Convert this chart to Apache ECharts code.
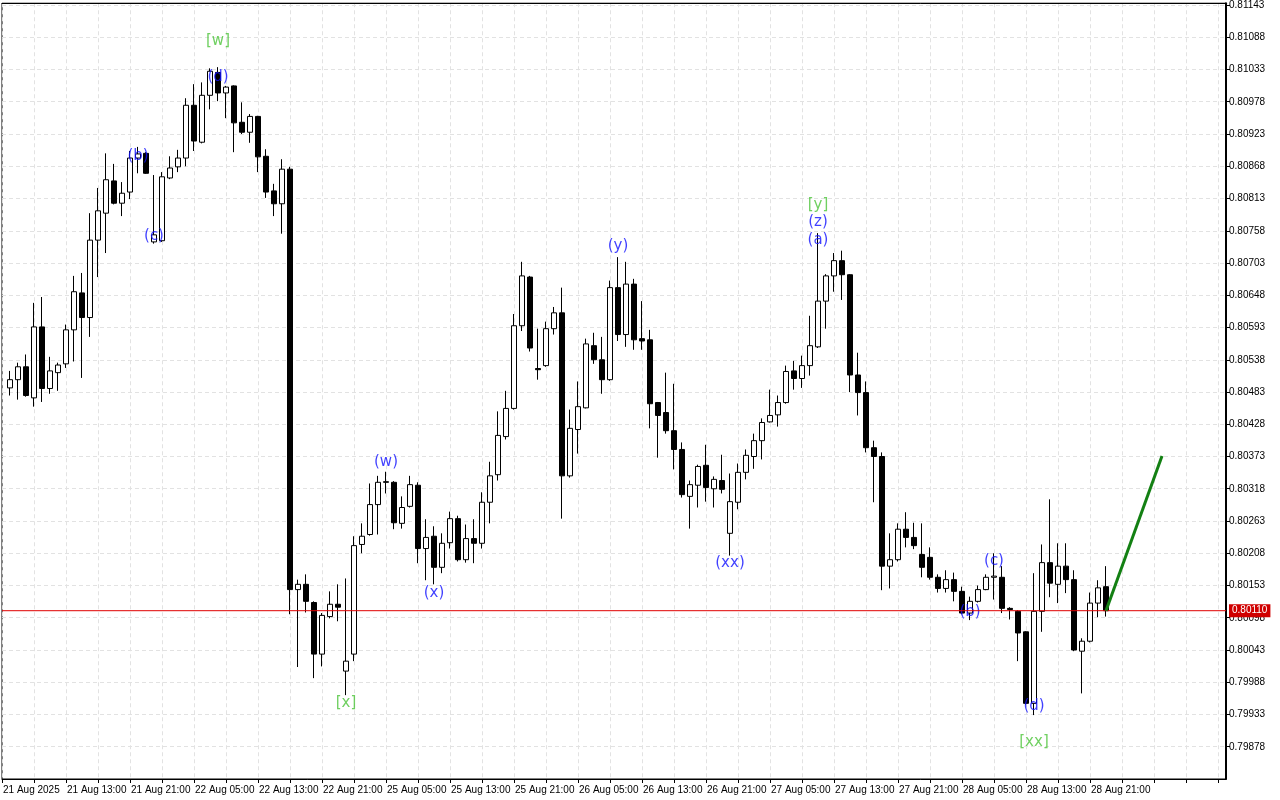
<!DOCTYPE html>
<html>
<head>
<meta charset="utf-8">
<script src="https://cdn.jsdelivr.net/npm/echarts@6/dist/echarts.min.js"></script>
<style>
html, body { margin: 0; padding: 0; background: #fff; }
#chart { width: 1280px; height: 800px; }
</style>
</head>
<body>
<div id="chart"></div>
<script>
// trading days shown, hourly bars; the first day starts at 05:00
const days = ['21 Aug', '22 Aug', '25 Aug', '26 Aug', '27 Aug', '28 Aug'];
const nextDay = '29 Aug';
const firstLabel = '21 Aug 2025';
const futureSlots = 15;

// hourly candles from 21 Aug 06:00 to 28 Aug 23:00
const open = [
  0.80490, 0.80504, 0.80526, 0.80473, 0.80594, 0.80489, 0.80516, 0.80531, 0.80589, 0.80652,
  0.80610, 0.80742, 0.80788, 0.80843, 0.80805, 0.80824, 0.80882, 0.80890, 0.80739, 0.80741,
  0.80848, 0.80867, 0.80882, 0.80972, 0.80909, 0.80989, 0.81028, 0.80993, 0.81005, 0.80943,
  0.80926, 0.80953, 0.80885, 0.80826, 0.80804, 0.80863, 0.80146, 0.80155, 0.80124, 0.80036,
  0.80100, 0.80121, 0.80007, 0.80036, 0.80223, 0.80240, 0.80291, 0.80330, 0.80329, 0.80259,
  0.80288, 0.80324, 0.80216, 0.80237, 0.80184, 0.80226, 0.80267, 0.80197, 0.80233, 0.80225,
  0.80295, 0.80342, 0.80407, 0.80455, 0.80596, 0.80679, 0.80523, 0.80528, 0.80591, 0.80618,
  0.80340, 0.80419, 0.80456, 0.80562, 0.80538, 0.80504, 0.80661, 0.80581, 0.80667, 0.80574,
  0.80572, 0.80465, 0.80448, 0.80417, 0.80385, 0.80305, 0.80324, 0.80358, 0.80318, 0.80332,
  0.80242, 0.80295, 0.80346, 0.80373, 0.80400, 0.80432, 0.80444, 0.80465, 0.80519, 0.80506,
  0.80528, 0.80560, 0.80638, 0.80681, 0.80707, 0.80683, 0.80512, 0.80482, 0.80388, 0.80373,
  0.80186, 0.80197, 0.80249, 0.80235, 0.80206, 0.80201, 0.80167, 0.80148, 0.80163, 0.80143,
  0.80106, 0.80126, 0.80146, 0.80167, 0.80167, 0.80114, 0.80109, 0.80074, 0.79952, 0.80109,
  0.80192, 0.80155, 0.80186, 0.80163, 0.80041, 0.80058, 0.80123, 0.80151
];
const close = [
  0.80504, 0.80526, 0.80477, 0.80594, 0.80489, 0.80519, 0.80529, 0.80589, 0.80654, 0.80610,
  0.80742, 0.80792, 0.80845, 0.80805, 0.80822, 0.80882, 0.80889, 0.80856, 0.80751, 0.80850,
  0.80865, 0.80882, 0.80972, 0.80911, 0.80989, 0.81030, 0.80993, 0.81003, 0.80942, 0.80926,
  0.80953, 0.80884, 0.80824, 0.80804, 0.80863, 0.80146, 0.80155, 0.80126, 0.80036, 0.80102,
  0.80121, 0.80116, 0.80024, 0.80221, 0.80237, 0.80291, 0.80329, 0.80329, 0.80260, 0.80286,
  0.80325, 0.80216, 0.80235, 0.80184, 0.80225, 0.80267, 0.80197, 0.80233, 0.80225, 0.80295,
  0.80340, 0.80409, 0.80455, 0.80596, 0.80681, 0.80558, 0.80521, 0.80591, 0.80618, 0.80340,
  0.80421, 0.80458, 0.80565, 0.80538, 0.80504, 0.80661, 0.80581, 0.80667, 0.80572, 0.80570,
  0.80463, 0.80443, 0.80417, 0.80385, 0.80308, 0.80325, 0.80356, 0.80320, 0.80334, 0.80317,
  0.80296, 0.80346, 0.80375, 0.80400, 0.80431, 0.80443, 0.80465, 0.80518, 0.80506, 0.80528,
  0.80562, 0.80638, 0.80681, 0.80707, 0.80683, 0.80512, 0.80482, 0.80388, 0.80373, 0.80186,
  0.80197, 0.80249, 0.80235, 0.80221, 0.80184, 0.80167, 0.80148, 0.80163, 0.80143, 0.80106,
  0.80126, 0.80146, 0.80167, 0.80169, 0.80114, 0.80112, 0.80072, 0.79952, 0.80109, 0.80192,
  0.80157, 0.80186, 0.80163, 0.80043, 0.80058, 0.80123, 0.80149, 0.80110
];
const low = [
  0.80477, 0.80470, 0.80475, 0.80458, 0.80466, 0.80480, 0.80485, 0.80524, 0.80535, 0.80507,
  0.80577, 0.80679, 0.80720, 0.80803, 0.80783, 0.80812, 0.80856, 0.80855, 0.80736, 0.80739,
  0.80846, 0.80858, 0.80868, 0.80894, 0.80907, 0.80965, 0.80979, 0.80950, 0.80892, 0.80923,
  0.80908, 0.80858, 0.80814, 0.80783, 0.80753, 0.80104, 0.80014, 0.80107, 0.79995, 0.80015,
  0.80097, 0.80092, 0.79966, 0.80024, 0.80208, 0.80238, 0.80240, 0.80310, 0.80249, 0.80250,
  0.80286, 0.80191, 0.80162, 0.80155, 0.80174, 0.80216, 0.80194, 0.80192, 0.80191, 0.80216,
  0.80259, 0.80332, 0.80402, 0.80453, 0.80587, 0.80552, 0.80504, 0.80526, 0.80581, 0.80267,
  0.80337, 0.80378, 0.80455, 0.80531, 0.80480, 0.80502, 0.80570, 0.80560, 0.80555, 0.80555,
  0.80421, 0.80371, 0.80412, 0.80351, 0.80303, 0.80250, 0.80286, 0.80296, 0.80286, 0.80310,
  0.80204, 0.80283, 0.80334, 0.80352, 0.80368, 0.80431, 0.80424, 0.80463, 0.80487, 0.80490,
  0.80511, 0.80558, 0.80591, 0.80654, 0.80640, 0.80483, 0.80443, 0.80380, 0.80295, 0.80145,
  0.80148, 0.80194, 0.80218, 0.80215, 0.80167, 0.80163, 0.80141, 0.80141, 0.80126, 0.80104,
  0.80094, 0.80124, 0.80145, 0.80129, 0.80106, 0.80095, 0.80024, 0.79950, 0.79932, 0.80074,
  0.80133, 0.80123, 0.80140, 0.80041, 0.79969, 0.80056, 0.80099, 0.80100
];
const high = [
  0.80519, 0.80533, 0.80547, 0.80635, 0.80645, 0.80543, 0.80533, 0.80598, 0.80681, 0.80686,
  0.80788, 0.80831, 0.80890, 0.80872, 0.80841, 0.80894, 0.80901, 0.80892, 0.80853, 0.80858,
  0.80885, 0.80896, 0.80984, 0.81008, 0.81011, 0.81035, 0.81037, 0.81005, 0.81006, 0.80977,
  0.80957, 0.80954, 0.80897, 0.80838, 0.80880, 0.80867, 0.80163, 0.80172, 0.80126, 0.80106,
  0.80143, 0.80155, 0.80165, 0.80237, 0.80259, 0.80327, 0.80340, 0.80347, 0.80331, 0.80305,
  0.80340, 0.80329, 0.80266, 0.80254, 0.80242, 0.80279, 0.80272, 0.80257, 0.80266, 0.80312,
  0.80364, 0.80450, 0.80485, 0.80616, 0.80705, 0.80681, 0.80591, 0.80603, 0.80628, 0.80661,
  0.80453, 0.80501, 0.80574, 0.80584, 0.80577, 0.80673, 0.80713, 0.80705, 0.80676, 0.80638,
  0.80589, 0.80466, 0.80516, 0.80497, 0.80397, 0.80332, 0.80359, 0.80393, 0.80339, 0.80376,
  0.80344, 0.80361, 0.80385, 0.80412, 0.80438, 0.80487, 0.80477, 0.80528, 0.80536, 0.80545,
  0.80613, 0.80754, 0.80684, 0.80720, 0.80724, 0.80684, 0.80550, 0.80501, 0.80400, 0.80380,
  0.80242, 0.80259, 0.80278, 0.80260, 0.80259, 0.80218, 0.80172, 0.80179, 0.80175, 0.80151,
  0.80134, 0.80153, 0.80172, 0.80208, 0.80186, 0.80116, 0.80111, 0.80075, 0.80174, 0.80223,
  0.80300, 0.80225, 0.80225, 0.80179, 0.80063, 0.80141, 0.80162, 0.80186
];

const bidPrice = 0.80110;

// projected move after the last bar
const projIdx = [138, 145];
const projPrice = [0.80110, 0.80374];

// wave marks
const blueText = ['(d)', '(b)', '(c)', '(w)', '(x)', '(y)', '(xx)', '(z)', '(a)', '(b)', '(c)', '(d)'];
const blueIdx = [27, 17, 19, 48, 54, 77, 91, 102, 102, 121, 124, 129];
const bluePrice = [0.81020, 0.80885, 0.80749, 0.80363, 0.80140, 0.80732, 0.80191, 0.80773, 0.80742, 0.80107, 0.80194, 0.79947];
const greenText = ['[w]', '[x]', '[y]', '[xx]'];
const greenIdx = [27, 43, 102, 129];
const greenPrice = [0.81081, 0.79952, 0.80802, 0.79886];

// axis
const yMin = 0.79823;
const yMax = 0.81146;
const yStep = 0.00055;

const categories = [];
days.forEach((d, di) => {
  for (let h = di === 0 ? 5 : 0; h < 24; h++) {
    categories.push(d + ' ' + String(h).padStart(2, '0') + ':00');
  }
});
const lastBarIdx = categories.length - 1;
for (let h = 0; h < futureSlots; h++) {
  categories.push(nextDay + ' ' + String(h).padStart(2, '0') + ':00');
}

const candles = ['-'];
open.forEach((o, i) => {
  candles.push([o, close[i], low[i], high[i]]);
});

const chart = echarts.init(document.getElementById('chart'), null, {renderer: 'canvas'});

const axisFont = {fontFamily: 'Liberation Sans', fontSize: 10, color: '#000'};
const waveFont = {fontFamily: 'DejaVu Sans', fontSize: 15};

const option = {
  animation: false,
  backgroundColor: '#fff',
  grid: {
    left: 2,
    right: 54,
    top: 2,
    bottom: 21,
    show: true,
    borderColor: '#000',
    borderWidth: 1
  },
  xAxis: [
    {
      type: 'category',
      data: categories,
      boundaryGap: false,
      axisLine: {lineStyle: {color: '#000', width: 1}},
      axisTick: {interval: 3, length: 4, lineStyle: {color: '#000'}},
      axisLabel: Object.assign({
        interval: 7,
        align: 'left',
        margin: 6,
        padding: [0, 0, 0, 1],
        formatter: (v, i) => i === 0 ? firstLabel : (i > lastBarIdx ? '' : v)
      }, axisFont),
      splitLine: {
        show: true,
        interval: 3,
        lineStyle: {color: '#e2e2e2', type: [4, 3], width: 1}
      }
    },
    {
      // top frame line
      type: 'category',
      position: 'top',
      data: categories,
      boundaryGap: false,
      axisLine: {lineStyle: {color: '#000', width: 1}},
      axisTick: {show: false},
      axisLabel: {show: false},
      splitLine: {show: false}
    }
  ],
  yAxis: {
    type: 'value',
    position: 'right',
    min: yMin,
    max: yMax,
    interval: yStep,
    axisLine: {show: true, lineStyle: {color: '#000', width: 2}},
    axisTick: {show: true, length: 4, lineStyle: {color: '#000'}},
    axisLabel: Object.assign({
      margin: 3,
      showMinLabel: false,
      showMaxLabel: false,
      formatter: v => v.toFixed(5)
    }, axisFont),
    splitLine: {
      show: true,
      lineStyle: {color: '#e2e2e2', type: [4, 3], width: 1}
    }
  },
  series: [
    {
      // bid line
      type: 'line',
      data: [[0, bidPrice], [categories.length - 1, bidPrice]],
      symbol: 'none',
      silent: true,
      lineStyle: {color: '#e00000', width: 1},
      endLabel: {
        show: true,
        distance: 3,
        formatter: bidPrice.toFixed(5),
        color: '#fff',
        backgroundColor: '#d00000',
        padding: [2, 3, 1, 3],
        fontFamily: 'Liberation Sans',
        fontSize: 10
      }
    },
    {
      type: 'candlestick',
      data: candles,
      barWidth: 5,
      itemStyle: {
        color: '#fff',
        color0: '#000',
        borderColor: '#000',
        borderColor0: '#000',
        borderWidth: 1
      }
    },
    {
      type: 'line',
      data: projIdx.map((x, i) => [x, projPrice[i]]),
      symbol: 'none',
      lineStyle: {color: '#138013', width: 3}
    },
    {
      type: 'scatter',
      symbolSize: 1,
      itemStyle: {color: 'rgba(0,0,0,0)'},
      data: blueIdx.map((x, i) => ({value: [x, bluePrice[i]], name: blueText[i]})),
      label: Object.assign({
        show: true,
        position: 'inside',
        formatter: p => p.name,
        color: '#1010ff'
      }, waveFont)
    },
    {
      type: 'scatter',
      symbolSize: 1,
      itemStyle: {color: 'rgba(0,0,0,0)'},
      data: greenIdx.map((x, i) => ({value: [x, greenPrice[i]], name: greenText[i]})),
      label: Object.assign({
        show: true,
        position: 'inside',
        formatter: p => p.name,
        color: '#4cc43a'
      }, waveFont)
    }
  ]
};

chart.setOption(option);
</script>
</body>
</html>
